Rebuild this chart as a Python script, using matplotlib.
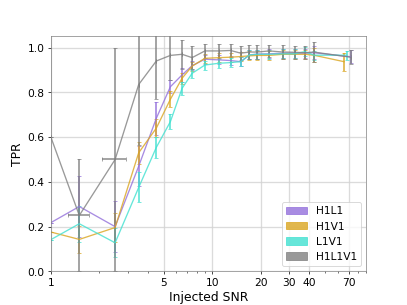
import numpy as np
import matplotlib.pyplot as plt
import matplotlib.patches as mpatches
from matplotlib.ticker import FixedLocator, FixedFormatter, NullFormatter

# ----------------------------------
# Data
# ----------------------------------
snr = [1, 1.5, 2.5, 3.5, 4.5, 5.5, 6.5, 7.5, 9, 11, 13, 15, 17, 19,
       22.5, 27.5, 32.5, 37.5, 42.5]

h1l1_x = snr + [72]
h1l1 = [0.218, 0.29, 0.20, 0.47, 0.684, 0.825, 0.878, 0.919, 0.948, 0.945,
        0.942, 0.937, 0.967, 0.971, 0.972, 0.975, 0.975, 0.975, 0.977, 0.959]
h1l1_err = [0, 0.135, 0.115, 0.09, 0.075, 0.03, 0.03, 0.02, 0.02, 0.02,
            0.02, 0.02, 0.02, 0.02, 0.02, 0.02, 0.02, 0.02, 0.03, 0.03]

h1v1_x = snr + [65.5]
h1v1 = [0.176, 0.143, 0.196, 0.53, 0.64, 0.769, 0.863, 0.917, 0.952, 0.955,
        0.957, 0.96, 0.963, 0.965, 0.965, 0.97, 0.97, 0.97, 0.966, 0.937]
h1v1_err = [0, 0.06, 0.064, 0.05, 0.04, 0.035, 0.025, 0.02, 0.02, 0.02,
            0.02, 0.02, 0.02, 0.02, 0.02, 0.02, 0.02, 0.02, 0.03, 0.04]

l1v1_x = snr + [68]
l1v1 = [0.142, 0.213, 0.128, 0.375, 0.554, 0.669, 0.818, 0.885, 0.922, 0.930,
        0.933, 0.937, 0.967, 0.97, 0.97, 0.972, 0.972, 0.982, 0.966, 0.966]
l1v1_err = [0, 0.08, 0.064, 0.067, 0.046, 0.033, 0.03, 0.02, 0.02, 0.02,
            0.02, 0.02, 0.02, 0.02, 0.02, 0.02, 0.02, 0.02, 0.02, 0.02]

h1l1v1_x = snr + [72]
h1l1v1 = [0.60, 0.25, 0.50, 0.835, 0.94, 0.965, 0.97, 0.955, 0.985, 0.985,
          0.987, 0.975, 0.98, 0.98, 0.985, 0.98, 0.979, 0.977, 0.98, 0.957]
h1l1v1_err = [0, 0.25, 0.50, 0.27, 0.17, 0.11, 0.065, 0.05, 0.03, 0.03,
              0.03, 0.03, 0.03, 0.03, 0.025, 0.03, 0.03, 0.03, 0.045, 0.03]
h1l1v1_xerr = [0, 0.22, 0.44] + [0] * 17

labels = ["H1L1", "H1V1", "L1V1", "H1L1V1"]
colors = ["mediumpurple", "goldenrod", "turquoise", "gray"]

xticks = [1, 5, 10, 20, 30, 40, 70]
yticks = [0.0, 0.2, 0.4, 0.6, 0.8, 1.0]

# ----------------------------------
# Plot
# ----------------------------------
fig, ax = plt.subplots(figsize=(6.4, 4.8), dpi=407 / 6.4)

series = [
    (h1l1_x, h1l1, h1l1_err, None),
    (h1v1_x, h1v1, h1v1_err, None),
    (l1v1_x, l1v1, l1v1_err, None),
    (h1l1v1_x, h1l1v1, h1l1v1_err, h1l1v1_xerr),
]

for (x, y, yerr, xerr), c in zip(series, colors):
    ax.errorbar(x, y, yerr=yerr, xerr=xerr, color=c, lw=1.5,
                elinewidth=2, capsize=2.5, alpha=0.8)

ax.set_xscale("log")
ax.set_xlim(1, 90)
ax.set_ylim(0, 1.05)

ax.xaxis.set_major_locator(FixedLocator(xticks))
ax.xaxis.set_major_formatter(FixedFormatter([str(t) for t in xticks]))
ax.xaxis.set_minor_formatter(NullFormatter())
ax.set_yticks(yticks)
ax.tick_params(labelsize=12)

ax.grid(True, which="major", color="lightgray", lw=1.5, alpha=0.8)
ax.set_axisbelow(True)
for s in ax.spines.values():
    s.set_color("gray")

ax.set_xlabel("Injected SNR", fontsize=14)
ax.set_ylabel("TPR", fontsize=14)

handles = [mpatches.Patch(color=c, alpha=0.8, label=l)
           for c, l in zip(colors, labels)]
ax.legend(handles=handles, loc="lower right", fontsize=12)

fig.savefig("out.png")
